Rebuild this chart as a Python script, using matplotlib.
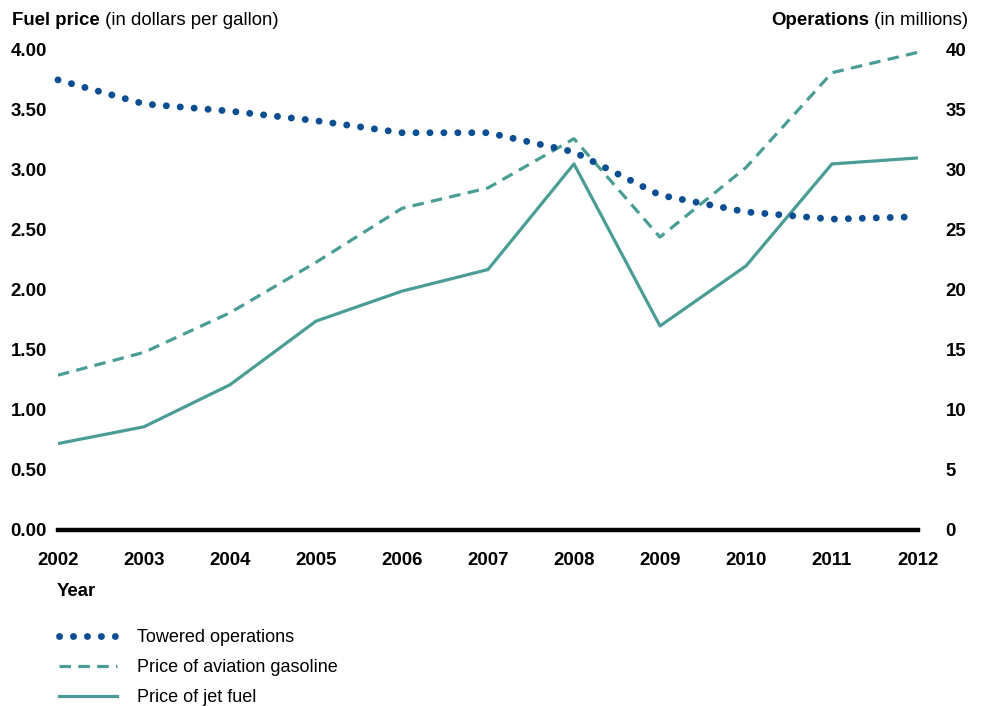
import matplotlib.pyplot as plt
from matplotlib.lines import Line2D

plt.rcParams.update({
    "font.family": ["Liberation Sans", "DejaVu Sans"],
    "font.size": 13.4,
})

years = [2002, 2003, 2004, 2005, 2006, 2007, 2008, 2009, 2010, 2011, 2012]
towered_ops = [37.5, 35.5, 34.9, 34.1, 33.1, 33.1, 31.5, 27.9, 26.5, 25.9, 26.1]
avgas_price = [1.29, 1.48, 1.81, 2.23, 2.68, 2.85, 3.26, 2.44, 3.02, 3.81, 3.98]
jet_price = [0.72, 0.86, 1.21, 1.74, 1.99, 2.17, 3.05, 1.70, 2.20, 3.05, 3.10]
left_ticks = [0, 0.5, 1.0, 1.5, 2.0, 2.5, 3.0, 3.5, 4.0]
right_ticks = [0, 5, 10, 15, 20, 25, 30, 35, 40]

TEAL = "#4a9d95"
BLUE = "#0b4f92"
DOTS = (0.01, 2.0)
DASH = (3.6, 2.3)

fig = plt.figure(figsize=(9.88, 7.06), dpi=100)
ax = fig.add_axes([0.0587, 0.2493, 0.8704, 0.680])
ax2 = ax.twinx()

ax.plot(years, jet_price, color=TEAL, lw=2.3, solid_capstyle="butt", zorder=2)
ax.plot(years, avgas_price, color=TEAL, lw=2.3, dashes=DASH, zorder=3)
ax2.plot(years, towered_ops, color=BLUE, lw=5.0, dashes=DOTS,
         dash_capstyle="round", clip_on=False, zorder=4)

ax.set_xlim(2002, 2012)
ax.set_ylim(0, 4)
ax2.set_ylim(0, 40)
ax.set_xticks(years)
ax.set_yticks(left_ticks)
ax.set_yticklabels([f"{v:.2f}" for v in left_ticks], fontweight="bold")
ax2.set_yticks(right_ticks)
ax2.set_yticklabels([str(v) for v in right_ticks], fontweight="bold")
ax.set_xticklabels([str(y) for y in years], fontweight="bold")
ax.tick_params(axis="x", length=0, pad=16)
ax.tick_params(axis="y", length=0, pad=8)
ax2.tick_params(axis="y", length=0, pad=20)

for a in (ax, ax2):
    for s in ("top", "left", "right", "bottom"):
        a.spines[s].set_visible(False)
ax.axhline(0, color="black", lw=3.2, clip_on=False, zorder=5)

# titles above axes
t1 = fig.text(12 / 988, 1 - 25 / 706, "Fuel price", fontweight="bold", va="baseline")
ax.annotate(" (in dollars per gallon)", xy=(1, 0), xycoords=t1, va="bottom",
            ha="left")
t2 = fig.text(968 / 988, 1 - 25 / 706, " (in millions)", ha="right", va="baseline")
ax.annotate("Operations", xy=(0, 0), xycoords=t2, va="bottom", ha="right",
            fontweight="bold")

fig.text(57 / 988, 1 - 591 / 706, "Year", fontweight="bold", va="center")

handles = [
    Line2D([], [], color=BLUE, lw=5.0, dashes=DOTS, dash_capstyle="round"),
    Line2D([], [], color=TEAL, lw=2.3, dashes=DASH),
    Line2D([], [], color=TEAL, lw=2.3),
]
labels = ["Towered operations", "Price of aviation gasoline", "Price of jet fuel"]
fig.legend(handles, labels, loc="upper left", bbox_to_anchor=(59 / 988, 1 - 629 / 706),
           frameon=False, borderpad=0, borderaxespad=0, handlelength=3.2,
           handletextpad=1.1, labelspacing=0.72, fontsize=13)

fig.savefig("out.png", dpi=100)
